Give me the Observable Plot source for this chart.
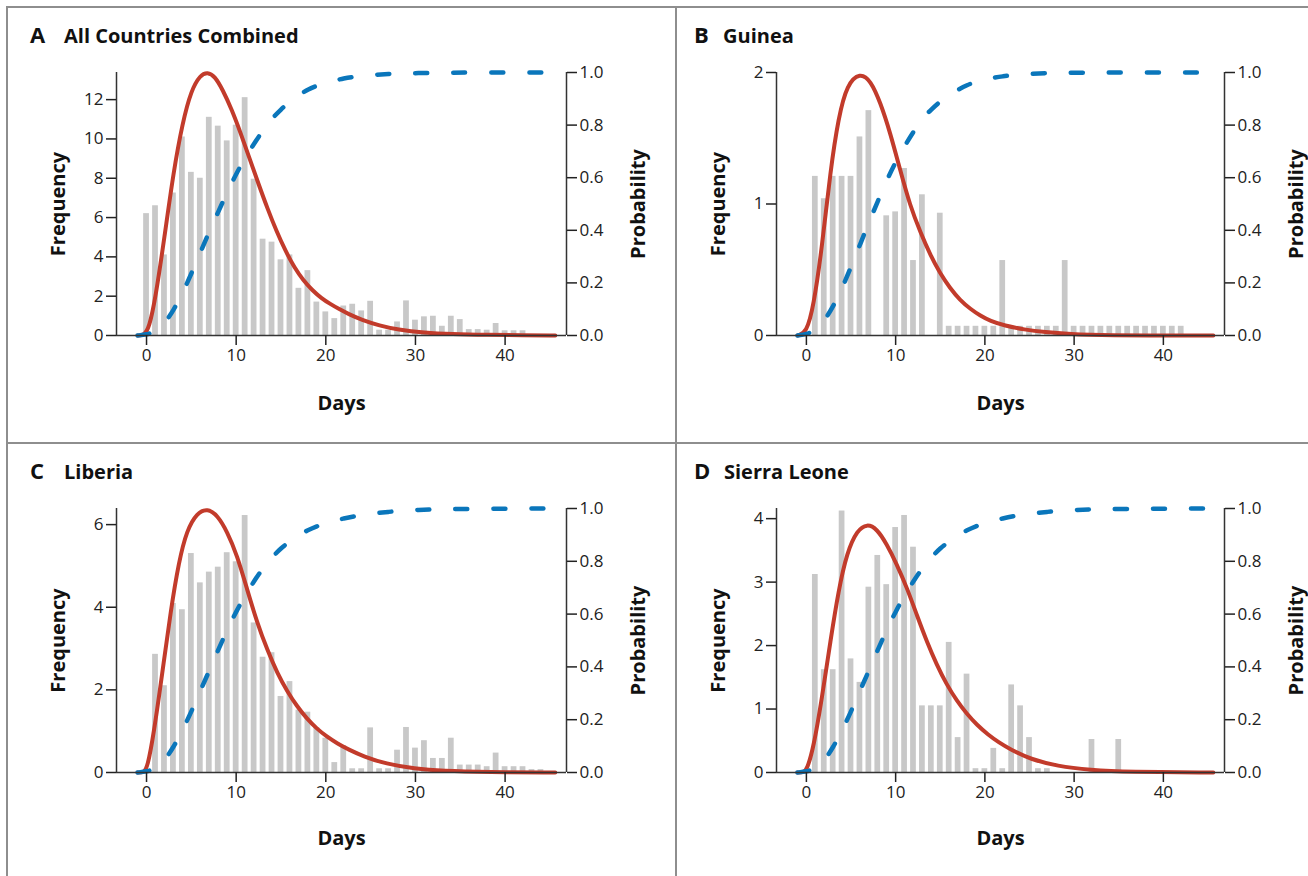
<!DOCTYPE html>
<html><head><meta charset="utf-8">
<script src="https://cdn.jsdelivr.net/npm/d3@7"></script>
<script src="https://cdn.jsdelivr.net/npm/@observablehq/plot@0.6"></script>
<style>
html,body{margin:0;padding:0;background:#fff;}
#fig{position:relative;width:1308px;height:876px;overflow:hidden;font-family:"Open Sans","Noto Sans",sans-serif;background:#fff;}
.panel{position:absolute;}
.panel svg{max-width:none !important;}
.t{position:absolute;font-weight:700;color:#111;white-space:nowrap;font-size:21px;line-height:21px;}
.ln{position:absolute;background:#8e8e8e;}
</style></head><body><div id="fig"></div>
<script>
// ---------- data ----------
const xTicks = [0, 10, 20, 30, 40];
const probTicks = [0, 0.2, 0.4, 0.6, 0.8, 1.0];

// A: All Countries Combined
const allFirstDay = 0;
const allFreq = [6.2, 6.6, 4.1, 7.25, 10.1, 8.3, 8.0, 11.1, 10.65, 9.9, 10.7, 12.1, 7.95, 4.9, 4.75, 3.85, 4.1, 2.4, 3.3, 1.7,
  1.2, 0.86, 1.5, 1.59, 1.25, 1.74, 0.27, 0.27, 0.69, 1.76, 0.78, 0.95, 0.98, 0.47, 0.98, 0.81, 0.3, 0.3, 0.27, 0.61, 0.24, 0.24, 0.24];
const allFreqTicks = [0, 2, 4, 6, 8, 10, 12];
const allDensX = [-1, -0.3, 0.3, 1, 2, 3, 4, 5, 6, 6.8, 7.6, 8.5, 9.5, 10.5, 11.5, 12.5, 13.5, 14.5, 15.5, 16.5, 17.5, 18.5, 19.5, 20.5, 21.5, 22.5, 24, 26, 28, 31, 34, 38, 42, 45.6];
const allDensY = [0, 0, 0.4, 1.9, 5.0, 8.3, 10.8, 12.5, 13.25, 13.4, 13.2, 12.5, 11.5, 10.3, 9.0, 7.7, 6.45, 5.3, 4.3, 3.45, 2.8, 2.3, 1.9, 1.6, 1.34, 1.1, 0.8, 0.5, 0.3, 0.14, 0.07, 0.03, 0.01, 0];
const allCdfX = [-1, 0, 1, 2, 3, 4, 5, 6, 7, 8, 9, 10, 11, 12, 13, 14, 15, 16, 17, 18, 19, 20, 22, 24, 27, 30, 35, 45.6];
const allCdfP = [0, 0.003, 0.015, 0.045, 0.095, 0.16, 0.235, 0.315, 0.395, 0.47, 0.545, 0.615, 0.675, 0.73, 0.78, 0.825, 0.86, 0.89, 0.915, 0.935, 0.95, 0.962, 0.978, 0.988, 0.995, 0.998, 1, 1];

// B: Guinea
const guineaFirstDay = 1;
const guineaFreq = [1.21, 1.04, 1.21, 1.21, 1.21, 1.51, 1.71, 0, 0.91, 0.94, 1.27, 0.57, 1.07, 0, 0.93,
  0.07, 0.07, 0.07, 0.07, 0.07, 0.07, 0.57, 0.07, 0.07, 0.07, 0.07, 0.07, 0.07, 0.57,
  0.07, 0.07, 0.07, 0.07, 0.07, 0.07, 0.07, 0.07, 0.07, 0.07, 0.07, 0.07, 0.07];
const guineaFreqTicks = [0, 1, 2];
const guineaDensX = [-1, 0, 0.8, 1.75, 2.7, 3.6, 4.55, 6, 7.2, 8.3, 9.4, 10.5, 11.6, 12.8, 13.9, 15, 16.1, 17.2, 18.4, 19.5, 20.6, 22.2, 24.4, 26.7, 29.6, 33, 45.6];
const guineaDensY = [0, 0.02, 0.22, 0.67, 1.26, 1.66, 1.91, 2.0, 1.94, 1.77, 1.54, 1.26, 0.99, 0.78, 0.61, 0.47, 0.36, 0.27, 0.2, 0.15, 0.11, 0.075, 0.045, 0.025, 0.01, 0, 0];
const guineaCdfX = [-1, 0, 1, 2, 3, 4, 5, 6, 7, 8, 9, 10, 11, 12, 13, 14, 15, 16, 17, 18, 19, 20, 22, 24, 27, 30, 45.6];
const guineaCdfP = [0, 0.004, 0.02, 0.055, 0.11, 0.18, 0.26, 0.345, 0.43, 0.51, 0.59, 0.66, 0.72, 0.775, 0.825, 0.86, 0.89, 0.915, 0.935, 0.952, 0.965, 0.975, 0.986, 0.993, 0.998, 1, 1];

// C: Liberia
const liberiaFirstDay = 1;
const liberiaFreq = [2.86, 2.1, 4.09, 3.94, 5.3, 4.59, 4.85, 4.97, 5.32, 5.1, 6.22, 3.62, 2.79, 2.9, 1.84, 2.2, 1.51, 1.46, 1.09, 0.83,
  0.24, 0.65, 0.09, 0.09, 1.08, 0.09, 0.09, 0.54, 1.09, 0.59, 0.77, 0.34, 0.34, 0.83, 0.18, 0.18, 0.18, 0.14, 0.47, 0.14, 0.14, 0.14, 0.07, 0.07];
const liberiaFreqTicks = [0, 2, 4, 6];
const liberiaDensX = [-1, -0.3, 0.1, 0.8, 1.75, 2.7, 3.6, 4.5, 5.65, 6.8, 7.9, 9, 10.1, 11.2, 12.3, 13.5, 14.6, 15.7, 16.8, 17.9, 19, 20.1, 21.3, 22.6, 24.2, 26.7, 29.9, 33, 38, 45.6];
const liberiaDensY = [0, 0, 0.12, 0.93, 2.39, 3.92, 5.1, 5.87, 6.29, 6.39, 6.23, 5.83, 5.26, 4.45, 3.65, 2.95, 2.4, 1.96, 1.6, 1.3, 1.06, 0.87, 0.7, 0.55, 0.39, 0.21, 0.09, 0.035, 0.01, 0];
const liberiaCdfX = [-1, 0, 1, 2, 3, 4, 5, 6, 7, 8, 9, 10, 11, 12, 13, 14, 15, 16, 17, 18, 19, 20, 22, 24, 27, 30, 35, 45.6];
const liberiaCdfP = [0, 0.003, 0.015, 0.045, 0.095, 0.16, 0.23, 0.31, 0.385, 0.465, 0.54, 0.61, 0.67, 0.725, 0.775, 0.815, 0.85, 0.875, 0.9, 0.918, 0.933, 0.945, 0.963, 0.976, 0.988, 0.995, 0.999, 1];

// D: Sierra Leone
const sierraFirstDay = 1;
const sierraFreq = [3.12, 1.62, 1.62, 4.12, 1.79, 1.42, 2.92, 3.42, 2.96, 3.86, 4.05, 3.55, 1.05, 1.05, 1.05, 2.05, 0.55, 1.55, 0.06, 0.06,
  0.38, 0.06, 1.38, 1.05, 0.55, 0.06, 0.06, 0, 0, 0, 0, 0.52, 0, 0, 0.52];
const sierraFreqTicks = [0, 1, 2, 3, 4];
const sierraDensX = [-1, -0.3, 0.07, 0.8, 1.75, 2.7, 3.6, 4.55, 5.7, 6.8, 7.9, 9, 10.1, 11.3, 12.4, 13.5, 14.6, 15.7, 16.9, 18, 19.1, 20.4, 21.5, 22.9, 25.1, 28.1, 31.8, 36, 45.6];
const sierraDensY = [0, 0, 0.05, 0.39, 1.18, 2.08, 2.87, 3.47, 3.82, 3.92, 3.84, 3.6, 3.29, 2.9, 2.47, 2.06, 1.7, 1.39, 1.12, 0.92, 0.75, 0.59, 0.48, 0.36, 0.21, 0.1, 0.04, 0.01, 0];
const sierraCdfX = [-1, 0, 1, 2, 3, 4, 5, 6, 7, 8, 9, 10, 11, 12, 13, 14, 15, 16, 17, 18, 19, 20, 22, 24, 27, 30, 35, 45.6];
const sierraCdfP = [0, 0.003, 0.015, 0.045, 0.095, 0.16, 0.23, 0.31, 0.385, 0.465, 0.54, 0.61, 0.67, 0.725, 0.775, 0.815, 0.85, 0.875, 0.9, 0.918, 0.933, 0.945, 0.963, 0.976, 0.988, 0.995, 0.999, 1];

// ---------- drawing ----------
const xDomain = [-3.35, 46.85];
const RED = "#c23b2b", BLUE = "#0a76bb", BAR = "#c8c8c8", INK = "#222";

function drawPanel(cfg) {
  const bars = cfg.freq.map((f, i) => ({day: cfg.firstDay + i, f}));
  const dens = cfg.densX.map((x, i) => ({x, y: cfg.densY[i]}));
  const cdf = cfg.cdfX.map((x, i) => ({x, p: cfg.cdfP[i]}));
  const yTop = cfg.yTop;
  const svg = Plot.plot({
    width: cfg.w, height: cfg.h,
    marginLeft: cfg.ml, marginRight: cfg.mr, marginTop: cfg.mt, marginBottom: cfg.mb,
    x: {domain: xDomain, axis: null},
    y: {domain: [0, yTop], axis: null},
    style: {fontFamily: '"Open Sans","Noto Sans",sans-serif', fontSize: "17px", color: INK, background: "transparent", overflow: "visible", maxWidth: "none"},
    marks: [
      Plot.rectY(bars, {x1: d => d.day - 0.5, x2: d => d.day + 0.5, y: "f", fill: BAR, insetLeft: 1.6, insetRight: 1.6}),
      Plot.line(dens, {x: "x", y: "y", stroke: RED, strokeWidth: 4, curve: "basis"}),
      Plot.line(cdf, {x: "x", y: d => d.p * yTop, stroke: BLUE, strokeWidth: 4.5, strokeDasharray: "12,26", strokeLinecap: "round", curve: "basis"}),
      Plot.ruleY([0], {stroke: "#333", strokeWidth: 1.5}),
      Plot.ruleX(xDomain, {stroke: "#333", strokeWidth: 1.5}),
      Plot.axisY(cfg.freqTicks, {anchor: "left", tickSize: 10, tickPadding: 3, strokeWidth: 1.5, label: null, tickFormat: d => String(d)}),
      Plot.axisY(probTicks.map(p => p * yTop), {anchor: "right", tickSize: 10, tickPadding: 3, strokeWidth: 1.5, label: null, tickFormat: d => (d / yTop).toFixed(1)}),
      Plot.axisX(xTicks, {anchor: "bottom", tickSize: 10, tickPadding: 3, strokeWidth: 1.5, label: null}),
      Plot.text(["Frequency"], {frameAnchor: "left", dx: -58, rotate: -90, textAnchor: "middle", lineAnchor: "middle", fontWeight: "bold", fontSize: 20, fill: "#111"}),
      Plot.text(["Probability"], {frameAnchor: "right", dx: 72, rotate: -90, textAnchor: "middle", lineAnchor: "middle", fontWeight: "bold", fontSize: 20, fill: "#111"}),
      Plot.text(["Days"], {frameAnchor: "bottom", dy: cfg.daysDy, textAnchor: "middle", lineAnchor: "middle", fontWeight: "bold", fontSize: 20, fill: "#111"})
    ]
  });
  const wrap = document.createElement("div");
  wrap.className = "panel";
  wrap.style.left = cfg.left + "px";
  wrap.style.top = cfg.top + "px";
  wrap.style.width = cfg.w + "px";
  wrap.style.height = cfg.h + "px";
  wrap.appendChild(svg);
  return wrap;
}

const fig = document.getElementById("fig");

const panels = [
  {left: 8, top: 8, w: 668, h: 435, ml: 108, mr: 110, mt: 64, mb: 108, daysDy: 68, yTop: 13.38,
   firstDay: allFirstDay, freq: allFreq, freqTicks: allFreqTicks, densX: allDensX, densY: allDensY, cdfX: allCdfX, cdfP: allCdfP,
   letter: "A", name: "All Countries Combined", lx: 30, nx: 64, ty: 24},
  {left: 676, top: 8, w: 668, h: 435, ml: 100, mr: 120, mt: 64, mb: 108, daysDy: 68, yTop: 2.0,
   firstDay: guineaFirstDay, freq: guineaFreq, freqTicks: guineaFreqTicks, densX: guineaDensX, densY: guineaDensY, cdfX: guineaCdfX, cdfP: guineaCdfP,
   letter: "B", name: "Guinea", lx: 694, nx: 723, ty: 24},
  {left: 8, top: 443, w: 668, h: 433, ml: 108, mr: 110, mt: 65, mb: 104, daysDy: 66, yTop: 6.39,
   firstDay: liberiaFirstDay, freq: liberiaFreq, freqTicks: liberiaFreqTicks, densX: liberiaDensX, densY: liberiaDensY, cdfX: liberiaCdfX, cdfP: liberiaCdfP,
   letter: "C", name: "Liberia", lx: 30, nx: 64, ty: 460},
  {left: 676, top: 443, w: 668, h: 433, ml: 100, mr: 120, mt: 65, mb: 104, daysDy: 66, yTop: 4.16,
   firstDay: sierraFirstDay, freq: sierraFreq, freqTicks: sierraFreqTicks, densX: sierraDensX, densY: sierraDensY, cdfX: sierraCdfX, cdfP: sierraCdfP,
   letter: "D", name: "Sierra Leone", lx: 694, nx: 724, ty: 460}
];

for (const p of panels) {
  fig.appendChild(drawPanel(p));
  const a = document.createElement("div");
  a.className = "t"; a.textContent = p.letter;
  a.style.left = p.lx + "px"; a.style.top = p.ty + "px"; a.style.fontSize = "22px";
  fig.appendChild(a);
  const n = document.createElement("div");
  n.className = "t"; n.textContent = p.name;
  n.style.left = p.nx + "px"; n.style.top = (p.ty + 1) + "px"; n.style.fontSize = "20px";
  fig.appendChild(n);
}

// panel frame lines
const lines = [
  {l: 6, t: 6, w: 1302, h: 2},
  {l: 6, t: 6, w: 2, h: 870},
  {l: 675, t: 6, w: 2, h: 870},
  {l: 6, t: 442, w: 1302, h: 2}
];
for (const L of lines) {
  const d = document.createElement("div");
  d.className = "ln";
  d.style.left = L.l + "px"; d.style.top = L.t + "px"; d.style.width = L.w + "px"; d.style.height = L.h + "px";
  fig.appendChild(d);
}
</script></body></html>
